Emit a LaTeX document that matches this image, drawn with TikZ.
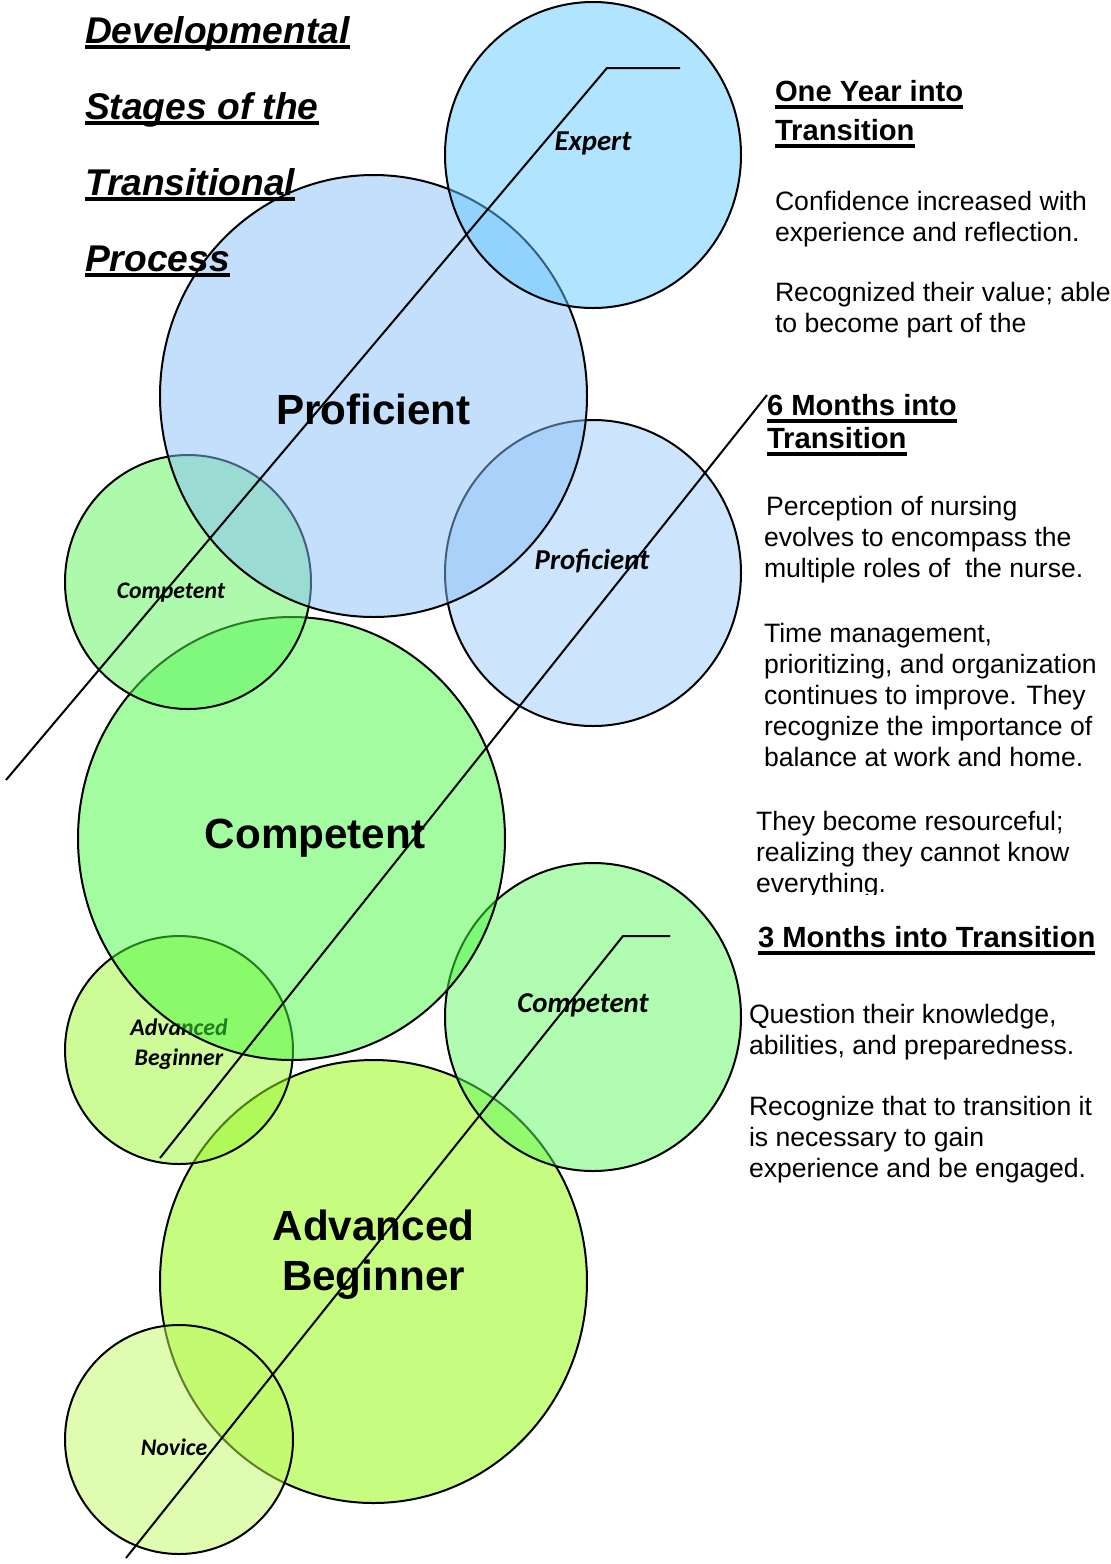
\documentclass[tikz,border=0pt]{standalone}
\usepackage{fontspec}
\setmainfont{Liberation Sans}
\newfontfamily\calfont{Carlito}
\newsavebox{\ulbox}
\newcommand{\headline}[1]{\sbox{\ulbox}{#1}\rlap{\vrule height -2.2pt depth 3.8pt width \wd\ulbox}\usebox{\ulbox}}
\newcommand{\titleline}[1]{\sbox{\ulbox}{#1}\rlap{\vrule height -1.2pt depth 3.1pt width \wd\ulbox}\usebox{\ulbox}}

\definecolor{expertblue}{RGB}{97,201,255}
\definecolor{profblue}{RGB}{137,191,249}
\definecolor{profsmall}{RGB}{153,201,249}
\definecolor{compleft}{RGB}{91,245,91}
\definecolor{compgreen}{RGB}{73,249,65}
\definecolor{compright}{RGB}{97,249,97}
\definecolor{advsmall}{RGB}{153,247,49}
\definecolor{advgreen}{RGB}{141,249,1}
\definecolor{novicegreen}{RGB}{193,249,97}

\tikzset{every picture/.style={line width=1pt}}
\tikzset{
  stage/.style={draw=black, fill opacity=0.5},
  biglabel/.style={anchor=base, inner sep=0pt, align=center, font=\fontsize{21.1}{25}\selectfont\bfseries},
  smalllabel/.style={anchor=base, inner sep=0pt, align=center, font=\calfont\fontsize{14.4}{15}\selectfont\bfseries\itshape},
  tinylabel/.style={anchor=base, inner sep=0pt, align=center, font=\calfont\fontsize{11.9}{15}\selectfont\bfseries\itshape},
  note/.style={anchor=base west, inner sep=0pt, align=left, font=\fontsize{13.3}{15.5}\selectfont},
  notehead/.style={anchor=base west, inner sep=0pt, align=left, font=\fontsize{14.6}{19.5}\selectfont\bfseries},
  titletext/.style={anchor=base west, inner sep=0pt, font=\fontsize{18.6}{20}\selectfont\bfseries\itshape}
}

\begin{document}
\begin{tikzpicture}[x=0.5pt,y=-0.5pt]
  \useasboundingbox (0,0) rectangle (1111,1564);

  % advanced beginner
  \draw [stage, fill=advgreen] (373.5,1281.5) ellipse [x radius=213.5, y radius=221.5];
  \draw (373.5,1290) node (advbig) [biglabel] {Advanced\\Beginner};
  \draw [stage, fill=novicegreen] (179,1439.5) ellipse [x radius=114, y radius=114.5];
  \draw (174,1455) node (novice) [tinylabel] {Novice};
  \draw [stage, fill=compright] (593,1017) ellipse [x radius=148, y radius=154];
  \draw (583,1012) node (compsml) [smalllabel] {Competent};
  \draw [stage, fill=advsmall] (179,1050) ellipse [x radius=114, y radius=114];
  \draw (179,1065) node (advsml) [tinylabel] {Advanced\\Beginner};

  % competent
  \draw [stage, fill=compgreen] (291.5,838.5) ellipse [x radius=213.5, y radius=221.5];
  \draw (315,848) node (compbig) [biglabel] {Competent};
  \draw [stage, fill=compleft] (188,582) ellipse [x radius=123, y radius=127];
  \draw (171,598) node (compleftlbl) [tinylabel] {Competent};

  % proficient
  \draw [stage, fill=profsmall] (593,573) ellipse [x radius=148, y radius=153];
  \draw (592,569) node (profsml) [smalllabel] {Proficient};
  \draw [stage, fill=profblue] (373.5,396) ellipse [x radius=213.5, y radius=221];
  \draw (373.5,424) node (profbig) [biglabel] {Proficient};

  % expert
  \draw [stage, fill=expertblue] (593,155) ellipse [x radius=148, y radius=153];
  \draw (593,150) node (expert) [smalllabel] {Expert};

  % title
  \draw (84,43) node (ttla) [titletext] {\titleline{Developmental}};
  \draw (84,119) node (ttlb) [titletext] {\titleline{Stages of the}};
  \draw (84,195) node (ttlc) [titletext] {\titleline{Transitional}};
  \draw (84,271) node (ttld) [titletext] {\titleline{Process}};

  % lines
  \coordinate (la) at (6,780);
  \coordinate (lb) at (607,68);
  \coordinate (lc) at (680,68);
  \draw (la) -- (lb) -- (lc);
  \coordinate (ma) at (160,1158);
  \coordinate (mb) at (767,395);
  \draw (ma) -- (mb);
  \coordinate (na) at (126,1558);
  \coordinate (nb) at (623,936);
  \coordinate (nc) at (670,936);
  \draw (na) -- (nb) -- (nc);

  % one year
  \draw (774,140) node (yearhd) [notehead] {\headline{One Year into}\\\headline{Transition}};
  \draw (774,241) node (yeara) [note] {Confidence increased with\\experience and reflection.};
  \begin{scope}
    \clip (740,250) rectangle (1111,346);
    \draw (774,332) node (yearb) [note] {Recognized their value; able\\to become part of the};
  \end{scope}

  % six months
  \draw (766,448) node (sixhd) [notehead, font=\fontsize{14.6}{16.5}\selectfont\bfseries] {\headline{6 Months into}\\\headline{Transition}};
  \draw (765,515) node (sixa) [note] {Perception of nursing};
  \draw (763,577) node (sixb) [note] {evolves to encompass the\\multiple roles of\ \ the nurse.};
  \draw (763,766) node (sixc) [note] {Time management,\\prioritizing, and organization\\continues to improve. They\\recognize the importance of\\balance at work and home.};
  \begin{scope}
    \clip (740,800) rectangle (1111,894);
    \draw (755,892) node (sixd) [note] {They become resourceful;\\realizing they cannot know\\everything.};
  \end{scope}

  % three months
  \draw (757,947) node (threehd) [notehead] {\headline{3 Months into Transition}};
  \draw (748,1054) node (threea) [note] {Question their knowledge,\\abilities, and preparedness.};
  \draw (748,1177) node (threeb) [note] {Recognize that to transition it\\is necessary to gain\\experience and be engaged.};
\end{tikzpicture}
\end{document}
